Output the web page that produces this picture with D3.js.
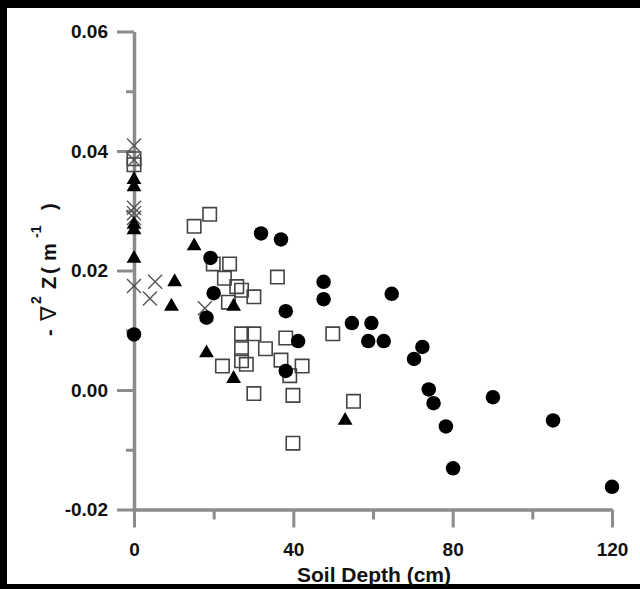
<!DOCTYPE html>
<html><head><meta charset="utf-8">
<script src="https://cdn.jsdelivr.net/npm/d3@7"></script>
<style>html,body{margin:0;padding:0;background:#000;}svg{display:block;}</style>
</head><body>
<svg id="c" width="640" height="589"></svg>
<script>
// ---- data ----
const xMajorTicks = [0, 40, 80, 120];
const xMinorTicks = [20, 60, 100];
const yMajorTicks = [-0.02, 0.00, 0.02, 0.04, 0.06];
const yMinorTicks = [-0.01, 0.01, 0.03, 0.05];
const yTickLabels = ["-0.02", "0.00", "0.02", "0.04", "0.06"];

const circleX = [0, 19.2, 20, 18.2, 31.9, 36.9, 38.1, 41.2, 38.1, 47.6, 47.6, 54.7, 59.6, 58.8, 62.7, 64.7, 72.4, 70.3, 74, 75.2, 78.3, 80.1, 90.1, 105.2, 120];
const circleY = [0.0093, 0.0221, 0.0162, 0.0121, 0.0262, 0.0252, 0.0132, 0.0082, 0.0032, 0.0181, 0.0152, 0.0112, 0.0112, 0.0082, 0.0082, 0.0161, 0.0072, 0.0052, 0.0001, -0.0022, -0.0061, -0.0131, -0.0012, -0.0051, -0.0162];

const squareX = [15.1, 19, 19.9, 24, 22.7, 25.8, 27, 23.7, 30.1, 36, 27, 30.1, 27, 27, 28.2, 22.2, 33, 38.1, 36.9, 39.1, 42.2, 30.1, 39.9, 39.9, 49.9, 55.1, 0, 0];
const squareY = [0.0274, 0.0294, 0.0211, 0.0211, 0.0187, 0.0173, 0.0167, 0.0147, 0.0156, 0.0189, 0.0094, 0.0094, 0.0069, 0.0049, 0.0043, 0.0040, 0.0069, 0.0087, 0.0050, 0.0024, 0.0040, -0.0006, -0.0009, -0.0089, 0.0094, -0.0019, 0.0387, 0.0377];

const triangleX = [15.1, 10.2, 9.4, 18.2, 25, 25, 53, 0, 0, 0, 0, 0];
const triangleY = [0.0241, 0.0181, 0.0140, 0.0062, 0.0140, 0.0019, -0.0051, 0.0220, 0.0268, 0.0277, 0.0340, 0.0352];

const crossX = [0, 0, 0, 0, 0, 0, 5.3, 4, 17.8];
const crossY = [0.0409, 0.0385, 0.0305, 0.0296, 0.0288, 0.0174, 0.0181, 0.0153, 0.0137];

// ---- drawing ----
const svg = d3.select("#c");
svg.append("rect").attr("x", 0).attr("y", 0).attr("width", 640).attr("height", 589).attr("fill", "#000");
svg.append("rect").attr("x", 7).attr("y", 8).attr("width", 633).attr("height", 576).attr("fill", "#fff");

const x = d3.scaleLinear().domain([0, 120]).range([134, 612]);
const y = d3.scaleLinear().domain([-0.02, 0.06]).range([509.5, 31.5]);

const axisColor = "#8c8c8c";
const font = "'Liberation Sans', Arial, Helvetica, sans-serif";

function styleAxis(g) {
  g.selectAll("path.domain").attr("stroke", axisColor).attr("stroke-width", 3.5);
  g.selectAll(".tick line").attr("stroke", axisColor).attr("stroke-width", 3);
  g.selectAll(".tick text").attr("fill", "#111").attr("font-family", font)
    .attr("font-size", 19).attr("font-weight", "bold");
}

// minor ticks
svg.append("g").attr("transform", `translate(0,${y(-0.02)})`)
  .call(d3.axisBottom(x).tickValues(xMinorTicks).tickSize(10).tickSizeOuter(0).tickFormat(""))
  .call(g => g.select(".domain").remove()).call(styleAxis);
svg.append("g").attr("transform", `translate(${x(0)},0)`)
  .call(d3.axisLeft(y).tickValues(yMinorTicks).tickSize(8).tickSizeOuter(0).tickFormat(""))
  .call(g => g.select(".domain").remove()).call(styleAxis);

// major axes
svg.append("g").attr("transform", `translate(0,${y(-0.02)})`)
  .call(d3.axisBottom(x).tickValues(xMajorTicks).tickSize(18).tickSizeOuter(0).tickPadding(15).tickFormat(d3.format("d")))
  .call(styleAxis);
svg.append("g").attr("transform", `translate(${x(0)},0)`)
  .call(d3.axisLeft(y).tickValues(yMajorTicks).tickSize(17).tickSizeOuter(0).tickPadding(9)
    .tickFormat((d, i) => yTickLabels[i]))
  .call(styleAxis);

// axis titles
svg.append("text").attr("x", 374).attr("y", 582).attr("text-anchor", "middle")
  .attr("font-family", font).attr("font-size", 21).attr("font-weight", "bold").attr("fill", "#111")
  .text("Soil Depth (cm)");

// y title pieces: [text, screen-y start (bottom), font size, baseline shift, family]
const yTitleParts = [
  ["-", 336, 20, 0, font],
  ["\u2207", 321, 22, 0, "'DejaVu Sans', sans-serif"],
  ["2", 304, 14, -15, font],
  ["Z", 289, 20, 0, font],
  ["(", 274, 20, 0, font],
  ["m", 261, 20, 0, font],
  ["-1", 238, 14, -15, font],
  [")", 210, 20, 0, font]
];
const yg = svg.append("g").attr("transform", "translate(56,0) rotate(-90)");
yg.selectAll("text").data(yTitleParts).join("text")
  .attr("x", d => -d[1]).attr("y", d => d[3])
  .attr("font-size", d => d[2]).attr("font-family", d => d[4])
  .attr("font-weight", d => d[0] === "\u2207" ? "normal" : "bold")
  .attr("fill", "#111").text(d => d[0]);

// markers
const plot = svg.append("g");

plot.selectAll("path.sq").data(d3.range(squareX.length)).join("path")
  .attr("transform", i => `translate(${x(squareX[i])},${y(squareY[i])})`)
  .attr("d", d3.symbol().type(d3.symbolSquare).size(180)())
  .attr("fill", "none").attr("stroke", "#444").attr("stroke-width", 1.6);

plot.selectAll("path.x").data(d3.range(crossX.length)).join("path")
  .attr("transform", i => `translate(${x(crossX[i])},${y(crossY[i])})`)
  .attr("d", d3.symbol().type(d3.symbolTimes).size(130)())
  .attr("fill", "none").attr("stroke", "#555").attr("stroke-width", 1.4);

plot.selectAll("path.tri").data(d3.range(triangleX.length)).join("path")
  .attr("transform", i => `translate(${x(triangleX[i])},${y(triangleY[i])})`)
  .attr("d", d3.symbol().type(d3.symbolTriangle).size(95)())
  .attr("fill", "#000");

plot.selectAll("path.ci").data(d3.range(circleX.length)).join("path")
  .attr("transform", i => `translate(${x(circleX[i])},${y(circleY[i])})`)
  .attr("d", d3.symbol().type(d3.symbolCircle).size(165)())
  .attr("fill", "#000");
</script>
</body></html>
